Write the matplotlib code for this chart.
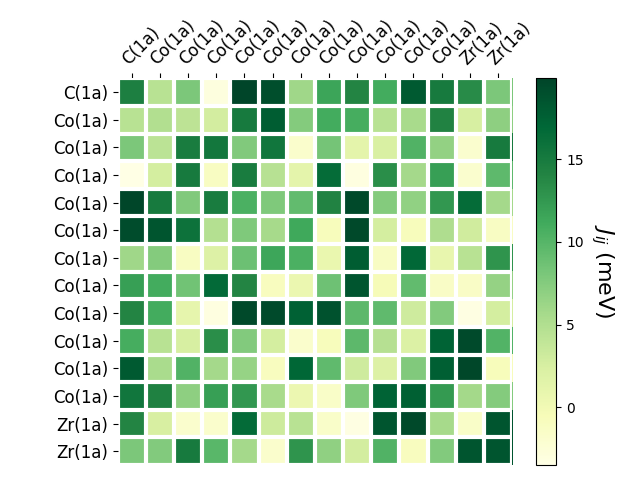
import numpy as np
import matplotlib
matplotlib.use("Agg")
import matplotlib.pyplot as plt

# site labels
sites = ["C(1a)"] + ["Co(1a)"] * 11 + ["Zr(1a)"] * 2

# exchange couplings J_ij in meV (row by row)
row0 = [14.5, 4.5, 8.0, -3.0, 19.9, 19.0, 6.0, 11.5, 14.0, 11.0, 18.0, 15.0, 13.5, 8.0]
row1 = [4.5, 5.0, 4.2, 2.8, 15.0, 17.8, 7.5, 11.0, 10.8, 4.5, 5.5, 14.2, 2.5, 7.0]
row2 = [8.0, 4.3, 14.8, 15.3, 7.7, 15.5, -1.8, 8.3, 1.3, 2.3, 10.3, 6.7, -2.0, 15.0]
row3 = [-3.5, 2.7, 15.0, -1.2, 14.8, 4.6, 1.3, 16.5, -3.2, 13.3, 5.7, 12.0, -2.0, 9.5]
row4 = [19.8, 15.0, 7.7, 14.8, 10.5, 7.8, 9.3, 14.2, 19.5, 7.5, 6.8, 12.5, 16.5, 5.7]
row5 = [19.2, 18.5, 15.8, 4.8, 7.8, 5.6, 11.3, -0.8, 19.5, 2.7, -0.8, 5.1, 2.9, -1.3]
row6 = [6.0, 7.5, -1.2, 1.9, 8.8, 11.4, 10.5, 0.7, 17.8, -1.3, 16.8, 0.8, 4.5, 12.8]
row7 = [12.0, 11.0, 8.5, 16.7, 14.0, -1.0, 0.6, 8.7, 18.5, -0.5, 9.3, -1.4, -1.4, 6.6]
row8 = [14.0, 11.0, 1.0, -3.2, 19.5, 19.4, 17.5, 18.8, 9.6, 9.4, 3.0, 7.6, -3.3, 2.7]
row9 = [10.8, 4.5, 2.5, 13.3, 7.6, 2.7, -1.8, -0.8, 9.6, 4.7, 2.0, 17.3, 19.4, 10.2]
row10 = [18.0, 5.4, 10.3, 5.7, 6.5, -1.0, 17.0, 9.4, 3.0, 1.9, 7.7, 17.7, 19.7, -0.7]
row11 = [15.5, 14.3, 7.0, 12.0, 12.5, 5.5, 0.5, -1.5, 7.8, 17.3, 17.6, 12.4, 5.8, 7.5]
row12 = [14.0, 2.4, -1.9, -1.8, 16.6, 3.1, 4.5, -1.6, -3.3, 18.5, 19.5, 5.6, -1.5, 18.5]
row13 = [8.0, 7.6, 15.0, 9.8, 5.7, -1.8, 12.8, 6.9, 2.8, 10.3, -1.0, 7.6, 18.5, 18.5]

J = np.array([row0, row1, row2, row3, row4, row5, row6, row7,
              row8, row9, row10, row11, row12, row13])

fig = plt.figure(figsize=(6.4, 4.8), dpi=100)
ax = fig.add_axes([0.184, 0.031, 0.616, 0.806])
cax = fig.add_axes([0.8375, 0.031, 0.032, 0.806])

# colour limits follow the data range
im = ax.imshow(J, cmap="YlGn", aspect="auto")

cbar = fig.colorbar(im, cax=cax)
cbar.ax.set_ylabel("$J_{ij}$ (meV)", rotation=-90, va="bottom", fontsize=16)

n = len(sites)
ax.set_xticks(np.arange(n))
ax.set_yticks(np.arange(n))
ax.set_xticklabels(sites, fontsize=12)
ax.set_yticklabels(sites, fontsize=12)
ax.tick_params(top=True, bottom=False, labeltop=True, labelbottom=False)
plt.setp(ax.get_xticklabels(), rotation=45, ha="left", rotation_mode="anchor")

# white grid between cells
for s in ax.spines.values():
    s.set_visible(False)
ax.set_xticks(np.arange(n + 1) - 0.5, minor=True)
ax.set_yticks(np.arange(n + 1) - 0.5, minor=True)
ax.grid(which="minor", color="w", linestyle="-", linewidth=3)
ax.tick_params(which="minor", bottom=False, left=False, top=False)

fig.savefig("out.png", dpi=100)
